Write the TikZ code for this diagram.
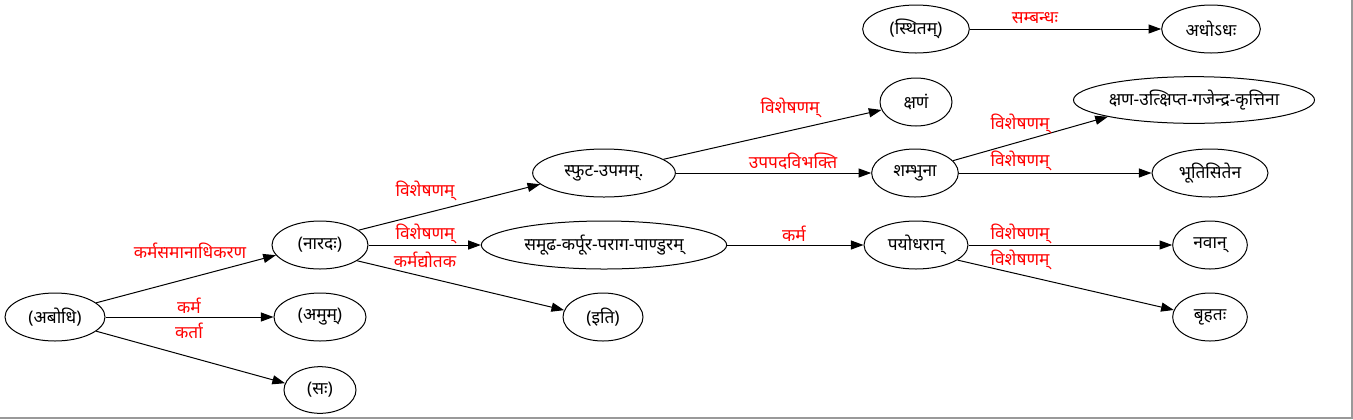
\documentclass[tikz,border=0pt]{standalone}
\usepackage{fontspec}
\setmainfont[Script=Devanagari]{Noto Sans}
\usetikzlibrary{shapes.geometric,arrows.meta}
\tikzset{
  nd/.style={draw, ellipse, line width=0.75pt, inner sep=0pt, minimum height=36pt, font=\fontsize{13}{15}\selectfont},
  lb/.style={text=red, inner sep=0pt, font=\fontsize{13}{15}\selectfont},
  ar/.style={line width=0.75pt, -{Triangle[length=9.5pt,width=6.8pt]}},
}
\begin{document}
\begin{tikzpicture}[x=0.75pt,y=-0.75pt]
\useasboundingbox (0,0) rectangle (1353,419);
\draw[line width=1pt, gray!80] (0,418) -- (1352,418) -- (1352,0);
% nodes
\node[nd, minimum width=75pt] (abodhi) at (55,317) {(अबोधि)};
\node[nd, minimum width=72pt] (narada) at (320,245) {(नारदः)};
\node[nd, minimum width=69pt] (amum) at (320,317) {(अमुम्)};
\node[nd, minimum width=54pt, minimum height=35pt] (sah) at (320,390) {(सः)};
\node[nd, minimum width=107pt] (sphuta) at (604,173) {स्फुट-उपमम्.};
\node[nd, minimum width=184pt] (samudha) at (604,245) {समूढ-कर्पूर-पराग-पाण्डुरम्};
\node[nd, minimum width=60pt] (iti) at (603,317) {(इति)};
\node[nd, minimum width=54pt] (kshanam) at (916,102) {क्षणं};
\node[nd, minimum width=65pt] (shambhuna) at (915,173) {शम्भुना};
\node[nd, minimum width=78pt] (payodharan) at (916,245) {पयोधरान्};
\node[nd, minimum width=80pt] (sthitam) at (916,29) {(स्थितम्)};
\node[nd, minimum width=74pt] (adhodhah) at (1211,29) {अधोऽधः};
\node[nd, minimum width=178pt, minimum height=35pt] (kshanaut) at (1194,100) {क्षण-उत्क्षिप्त-गजेन्द्र-कृत्तिना};
\node[nd, minimum width=87pt] (bhuti) at (1210,173) {भूतिसितेन};
\node[nd, minimum width=56pt] (navan) at (1210,245) {नवान्};
\node[nd, minimum width=56pt] (brhatah) at (1210,317) {बृहतः};
% edges
\draw[ar] (abodhi.19) -- (narada.193);
\draw[ar] (abodhi) -- (amum);
\draw[ar] (abodhi.-19) -- (sah.169);
\draw[ar] (narada.21) -- (sphuta.190);
\draw[ar] (narada) -- (samudha);
\draw[ar] (narada.-23) -- (iti.170);
\draw[ar] (sphuta.13) -- (kshanam.193);
\draw[ar] (sphuta) -- (shambhuna);
\draw[ar] (samudha) -- (payodharan);
\draw[ar] (shambhuna.18) -- (kshanaut.191);
\draw[ar] (shambhuna) -- (bhuti);
\draw[ar] (payodharan) -- (navan);
\draw[ar] (payodharan.-20) -- (brhatah.169);
\draw[ar] (sthitam) -- (adhodhah);
% labels
\node[lb] (l1) at (190,251) {कर्मसमानाधिकरण};
\node[lb] (l2) at (189,306) {कर्म};
\node[lb] (l3) at (189,331) {कर्ता};
\node[lb] (l4) at (425,191) {विशेषणम्};
\node[lb] (l5) at (425,234) {विशेषणम्};
\node[lb] (l6) at (425,260) {कर्मद्योतक};
\node[lb] (l7) at (790,108) {विशेषणम्};
\node[lb] (l8) at (793,161) {उपपदविभक्ति};
\node[lb] (l9) at (794,234) {कर्म};
\node[lb] (l10) at (1020,124) {विशेषणम्};
\node[lb] (l11) at (1020,161) {विशेषणम्};
\node[lb] (l12) at (1020,234) {विशेषणम्};
\node[lb] (l13) at (1020,260) {विशेषणम्};
\node[lb] (l14) at (1035,18) {सम्बन्धः};
\end{tikzpicture}
\end{document}
